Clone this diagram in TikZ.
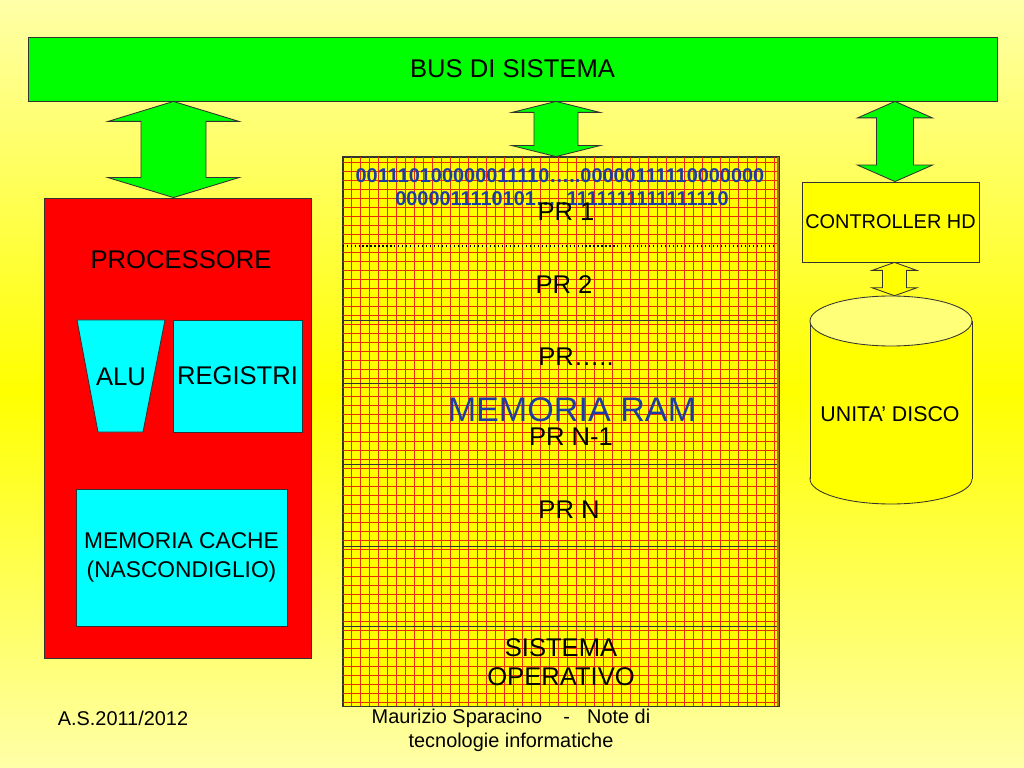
\documentclass[tikz,border=0pt]{standalone}
\usepackage{fontspec}
\setmainfont{Liberation Sans}
\usetikzlibrary{calc}

\newcommand\pxu{0.703125pt}
\definecolor{busgreen}{RGB}{0,255,0}
\definecolor{procred}{RGB}{255,0,0}
\definecolor{unitcyan}{RGB}{0,255,255}
\definecolor{puryellow}{RGB}{255,255,0}
\definecolor{ltyellow}{RGB}{255,255,168}
\definecolor{topyellow}{RGB}{255,255,120}
\definecolor{ramblue}{RGB}{30,60,165}
\definecolor{ramgrid}{RGB}{235,45,0}
\definecolor{edgebrown}{RGB}{165,115,0}

\tikzset{
	edge/.style={draw=black!80,line width=0.6pt},
	box/.style={edge,inner sep=0pt},
	busbox/.style={box,fill=busgreen},
	procbox/.style={box,fill=procred},
	unitbox/.style={box,fill=unitcyan},
	membox/.style={box,fill=puryellow},
	ctrlbox/.style={box,fill=puryellow},
	txtbig/.style={font=\fontsize{18}{20.4}\selectfont,align=center},
	txtmid/.style={font=\fontsize{16}{20.4}\selectfont,align=center},
	txtsmall/.style={font=\fontsize{14}{16.9}\selectfont,align=center},
	bits/.style={font=\fontsize{14}{16}\selectfont\bfseries,text=ramblue},
}

% double block arrow: [opts]{top}{bottom}{head half width}{shaft half width}{head length}
\newcommand\dblarrow[6][]{%
	\draw[#1] (#2) -- ($(#2)+(#4,#6)$) -- ($(#2)+(#5,#6)$) -- ($(#3)+(#5,-#6)$)
	-- ($(#3)+(#4,-#6)$) -- (#3) -- ($(#3)+(-#4,-#6)$) -- ($(#3)+(-#5,-#6)$)
	-- ($(#2)+(-#5,#6)$) -- ($(#2)+(-#4,#6)$) -- cycle;}

\begin{document}
\begin{tikzpicture}[x=0.703125pt,y=-0.703125pt]
	\useasboundingbox (0,0) rectangle (1024,768);
	\shade[top color=ltyellow,bottom color=puryellow] (0,0) rectangle (1024,390);
	\shade[top color=puryellow,bottom color=ltyellow] (0,390) rectangle (1024,768);

	% bus
	\node[busbox,txtbig,minimum width=969*\pxu,minimum height=64*\pxu] (bus) at (512.5,69) {BUS DI SISTEMA};

	% processore
	\node[procbox,minimum width=267*\pxu,minimum height=460*\pxu] (proc) at (177.5,428) {};
	\node[txtbig] (proctxt) at (181,260) {PROCESSORE};
	\draw[edge,fill=unitcyan] (77,320) -- (165,320) -- (143,432) -- (98,432) -- cycle;
	\node[txtbig] (alu) at (121,377) {ALU};
	\node[unitbox,txtbig,minimum width=129*\pxu,minimum height=112*\pxu] (reg) at (237.5,376) {REGISTRI};
	\node[unitbox,txtmid,minimum width=211*\pxu,minimum height=137*\pxu] (cache) at (181.5,557.5) {MEMORIA CACHE\\(NASCONDIGLIO)};

	% memoria ram
	\node[membox,minimum width=436*\pxu,minimum height=549*\pxu] (mem) at (561,431.5) {};
	\draw[ramgrid,line width=0.45pt,step=6.33pt] (mem.south west) grid (mem.north east);
	\draw[black,line width=0.8pt,dotted] (mem.west |- 0,246) -- (mem.east |- 0,246);
	\foreach \sy in {320,383,464,546,626}
		\draw[black!80,line width=0.6pt] (mem.west |- 0,\sy) -- (mem.east |- 0,\sy);
	\draw[edge] (mem.south west) rectangle (mem.north east);
	\draw[edgebrown,line width=2pt] ([xshift=-1pt]mem.north east) -- ([xshift=-1pt]mem.south east);
	\node[bits] (bit1) at (560,176) {001110100000011110…..00000111110000000};
	\node[bits] (bit2) at (562,199) {0000011110101…..1111111111111110};
	\node[txtbig] (pr1) at (566,212) {PR 1};
	\node[txtbig] (pr2) at (564,285) {PR 2};
	\node[txtbig] (prdots) at (576,357) {PR…..};
	\node[font=\fontsize{24}{28}\selectfont,text=ramblue] (ram) at (572,410) {MEMORIA RAM};
	\node[txtbig] (prn1) at (571,437) {PR N-1};
	\node[txtbig] (prn) at (569,510) {PR N};
	\node[txtbig] (so) at (561,662) {SISTEMA\\OPERATIVO};

	% disco
	\node[ctrlbox,txtsmall,minimum width=177*\pxu,minimum height=80*\pxu] (ctrl) at (890.5,222) {CONTROLLER HD};
	\node[inner sep=0pt,minimum width=162*\pxu,minimum height=208*\pxu] (disk) at (891,400) {};
	\draw[edge,fill=puryellow] (891,479) ellipse (81 and 25);
	\fill[puryellow] (810,321) rectangle (972,479);
	\draw[edge] (810,321) -- (810,479) (972,321) -- (972,479);
	\draw[edge,fill=topyellow] (891,321) ellipse (81 and 25);
	\node[font=\fontsize{15}{18}\selectfont] (disktxt) at (890,414) {UNITA’ DISCO};

	% frecce
	\coordinate (busp) at ($(proc.north |- bus.south)+(-4,0)$);
	\coordinate (procp) at ($(proc.north)+(-4,0)$);
	\coordinate (busm) at ($(mem.north |- bus.south)+(-5,0)$);
	\coordinate (memm) at ($(mem.north)+(-5,0)$);
	\coordinate (busc) at ($(ctrl.north |- bus.south)+(4.5,0)$);
	\coordinate (ctrlc) at ($(ctrl.north)+(4.5,0)$);
	\coordinate (ctrld) at ($(ctrl.south)+(4,0)$);
	\coordinate (diskd) at ($(disk.north)+(3.5,0)$);
	\dblarrow[edge,fill=busgreen]{busp}{procp}{65.5}{32.5}{20}
	\dblarrow[edge,fill=busgreen]{busm}{memm}{44}{22}{11}
	\dblarrow[edge,fill=busgreen]{busc}{ctrlc}{37.5}{18.5}{16.5}
	\dblarrow[edge,fill=puryellow]{ctrld}{diskd}{22.5}{12}{8}

	% piede
	\node[txtsmall] (anno) at (123,718) {A.S.2011/2012};
	\node[txtsmall] (autore) at (511,730) {Maurizio Sparacino\hspace{15pt}-\hspace{12pt}Note di\\tecnologie informatiche};
\end{tikzpicture}
\end{document}
